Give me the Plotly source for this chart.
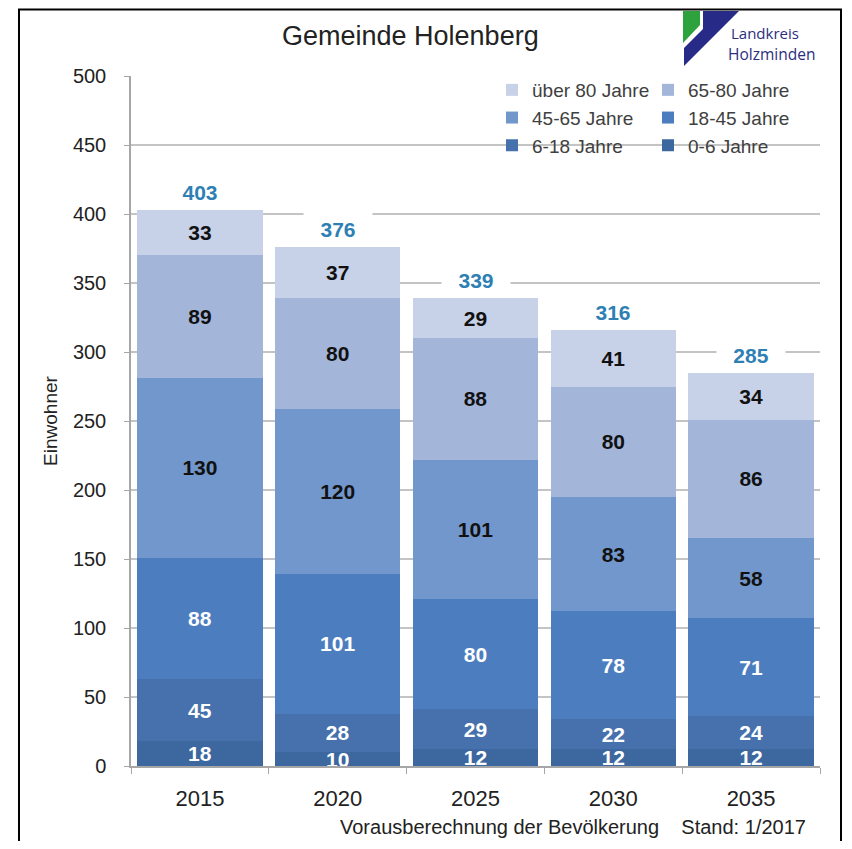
import plotly.graph_objects as go

years = ["2015", "2020", "2025", "2030", "2035"]

age_0_6 = [18, 10, 12, 12, 12]
age_6_18 = [45, 28, 29, 22, 24]
age_18_45 = [88, 101, 80, 78, 71]
age_45_65 = [130, 120, 101, 83, 58]
age_65_80 = [89, 80, 88, 80, 86]
age_80_plus = [33, 37, 29, 41, 34]

series = [
    ("0-6 Jahre", age_0_6, "#3d679f", "white", "legend2"),
    ("6-18 Jahre", age_6_18, "#4671ac", "white", "legend"),
    ("18-45 Jahre", age_18_45, "#4c7ebf", "white", "legend2"),
    ("45-65 Jahre", age_45_65, "#7297cc", "#111111", "legend"),
    ("65-80 Jahre", age_65_80, "#a3b6da", "#111111", "legend2"),
    ("über 80 Jahre", age_80_plus, "#c7d1e7", "#111111", "legend"),
]

totals = [sum(v) for v in zip(age_0_6, age_6_18, age_18_45, age_45_65, age_65_80, age_80_plus)]

FONT = "Liberation Sans, Arial, sans-serif"

# the page body adds an 8px margin, so the figure is 16px smaller than the
# window and screen pixels are shifted by OFF
OFF = 8
FW, FH = 852 - 2 * OFF, 849 - 2 * OFF
SL, ST, W, H = 131, 76, 689, 690   # plot area on screen
L, T = SL - OFF, ST - OFF          # plot area in figure coords


def px(x):
    return (x - SL) / W


def py(y):
    return (ST + H - y) / H


fig = go.Figure()

for i, (name, vals, color, tcolor, leg) in enumerate(series):
    fig.add_trace(go.Bar(
        x=years,
        y=vals,
        name=name,
        marker=dict(color=color, line=dict(width=0)),
        text=vals,
        textposition="inside",
        insidetextanchor="middle",
        textangle=0,
        constraintext="none",
        textfont=dict(family=FONT, size=21, color=tcolor, weight="bold"),
        legend=leg,
        legendgroup=name,
        legendrank=100 - i,
    ))

# totals above the stacks (category index on the x axis)
for i, tot in enumerate(totals):
    fig.add_annotation(
        x=i, y=tot, text=f"<b>{tot}</b>",
        showarrow=False, yanchor="bottom", yshift=1,
        bgcolor="white", width=62, height=26, borderpad=3,
        font=dict(family=FONT, size=21, color="#2e80b4"),
    )

# white area behind the legend (hides the gridline there)
fig.add_shape(type="rect", xref="paper", yref="paper", layer="between",
              x0=px(505), x1=px(822), y0=py(158), y1=py(80),
              fillcolor="white", line=dict(width=0))

# logo
fig.add_shape(type="path", xref="paper", yref="paper",
              path=f"M {px(683)},{py(11)} L {px(700)},{py(11)} L {px(700)},{py(25)} L {px(683)},{py(43)} Z",
              fillcolor="#2ea23c", line=dict(width=0))
fig.add_shape(type="path", xref="paper", yref="paper",
              path=f"M {px(703)},{py(11)} L {px(739)},{py(11)} L {px(684)},{py(66)} L {px(684)},{py(48)} L {px(703)},{py(29)} Z",
              fillcolor="#272b87", line=dict(width=0))
fig.add_annotation(xref="paper", yref="paper", x=px(729), y=py(33), xanchor="left", yanchor="middle",
                   text="Landkreis", showarrow=False,
                   font=dict(family="Open Sans, sans-serif", size=15, color="#2b2e7e"))
fig.add_annotation(xref="paper", yref="paper", x=px(726), y=py(54), xanchor="left", yanchor="middle",
                   text="Holzminden", showarrow=False,
                   font=dict(family="Open Sans, sans-serif", size=15.5, color="#2b2e7e"))

# caption
fig.add_annotation(xref="paper", yref="paper", x=px(808), y=py(827), xanchor="right", yanchor="middle",
                   text="Vorausberechnung der Bevölkerung    Stand: 1/2017", showarrow=False,
                   font=dict(family=FONT, size=20, color="#222222"))

# title
fig.add_annotation(xref="paper", yref="paper", x=px(410), y=py(36), xanchor="center", yanchor="middle",
                   text="Gemeinde Holenberg", showarrow=False,
                   font=dict(family=FONT, size=27, color="#222222"))

# outer frame (left, top, right)
fig.add_shape(type="path", xref="paper", yref="paper",
              path=f"M {px(19)},{py(870)} L {px(19)},{py(9.5)} L {px(841)},{py(9.5)} L {px(841)},{py(870)}",
              line=dict(color="black", width=2))

legend_style = dict(
    font=dict(family=FONT, size=19, color="#404040"),
    bgcolor="rgba(0,0,0,0)",
    itemwidth=30,
    tracegroupgap=0,
    yanchor="top",
    xanchor="left",
    orientation="v",
)

fig.update_layout(
    width=FW,
    height=FH,
    barmode="stack",
    bargap=0.09,
    template="plotly_white",
    paper_bgcolor="white",
    plot_bgcolor="white",
    margin=dict(l=L, r=FW - L - W, t=T, b=FH - T - H),
    legend=dict(x=px(492), y=py(71), **legend_style),
    legend2=dict(x=px(648), y=py(71), **legend_style),
    font=dict(family=FONT),
)

fig.update_yaxes(
    range=[0, 500], dtick=50,
    showgrid=True, gridcolor="#c4c4c4", gridwidth=1.5,
    showline=True, linecolor="#a6a6a6", linewidth=1.5,
    ticks="outside", ticklen=5, tickcolor="#a6a6a6",
    ticklabelstandoff=14,
    tickfont=dict(family=FONT, size=20, color="#222222"),
    zeroline=False,
    automargin=False,
    title=dict(text="Einwohner", standoff=10,
               font=dict(family=FONT, size=19, color="#222222")),
)

fig.update_xaxes(
    type="category",
    categoryorder="array", categoryarray=years,
    range=[-0.5, len(years) - 0.5],
    showline=True, linecolor="#a6a6a6", linewidth=1.5,
    ticks="outside", ticklen=6, tickcolor="#a6a6a6", tickson="boundaries",
    ticklabelstandoff=12,
    tickangle=0,
    automargin=False,
    tickfont=dict(family=FONT, size=22, color="#222222"),
    showgrid=False,
)

fig.write_html("out.html")
